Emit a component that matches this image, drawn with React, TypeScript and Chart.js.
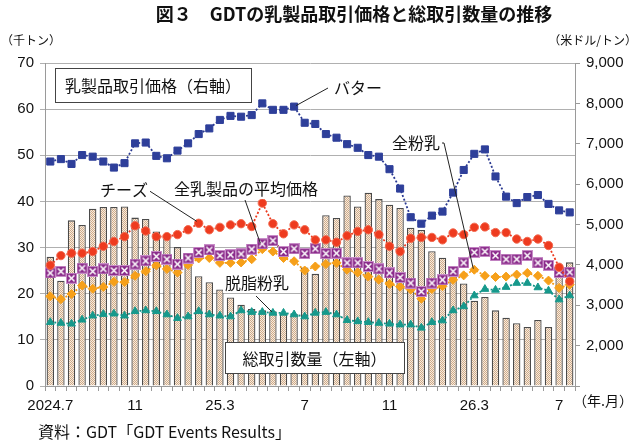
import React, { useEffect, useRef } from 'react';
import { Chart, registerables } from 'chart.js';

Chart.register(...registerables);

// GDT events, two per month, first one is July 2024
const tickLabels = ['2024.7', '11', '25.3', '7', '11', '26.3', '7'];
const eventsPerTick = 8;

// total traded volume (thousand tonnes, left axis)
const volume = [
    28.0, 22.8, 35.9, 34.9, 38.4, 38.8, 38.8, 38.9, 36.5, 36.2,
    33.5, 31.9, 30.1, 28.5, 23.8, 22.5, 20.9, 19.2, 17.6, 16.7,
    16.4, 16.2, 15.9, 15.6, 25.7, 24.3, 37.0, 36.4, 41.3, 38.9,
    41.9, 40.5, 39.3, 38.6, 34.3, 33.8, 29.2, 27.8, 24.3, 22.2,
    18.5, 19.3, 16.4, 14.8, 13.6, 12.8, 14.3, 12.8, 26.3, 26.8,
];

// prices (USD/tonne, right axis)
const butter = [
    6560, 6620, 6500, 6720, 6680, 6560, 6410, 6520, 7010, 7030,
    6700, 6640, 6830, 7010, 7240, 7380, 7590, 7690, 7670, 7710,
    8000, 7840, 7840, 7920, 7520, 7490, 7240, 7150, 6990, 6900,
    6720, 6680, 6370, 5890, 5180, 5020, 5220, 5320, 5790, 6350,
    6750, 6860, 6190, 5690, 5530, 5680, 5730, 5510, 5350, 5300,
];
const cheese = [
    3990, 4230, 4290, 4290, 4330, 4460, 4580, 4700, 4970, 4840,
    4700, 4700, 4750, 4870, 5030, 4870, 4930, 4990, 5020, 4950,
    5530, 5020, 4770, 4990, 4870, 4620, 4620, 4560, 4720, 4830,
    4870, 4750, 4460, 4330, 4660, 4680, 4680, 4620, 4790, 4750,
    4930, 4940, 4800, 4800, 4640, 4580, 4640, 4480, 3940, 3590,
];
const wholeMilkPowder = [
    3800, 3840, 3670, 3920, 3840, 3900, 3860, 3860, 4020, 4100,
    4210, 4140, 4020, 4170, 4310, 4370, 4230, 4250, 4270, 4390,
    4520, 4600, 4330, 4400, 4280, 4400, 4280, 4290, 4050, 4050,
    3960, 3900, 3800, 3690, 3550, 3340, 3550, 3630, 3840, 4050,
    4310, 4330, 4230, 4140, 4140, 4230, 4050, 3990, 3810, 3820,
];
const averagePrice = [
    3220, 3150, 3280, 3490, 3410, 3450, 3580, 3570, 3730, 3840,
    3990, 3900, 3810, 4000, 4160, 4170, 4050, 4050, 4060, 4140,
    4390, 4330, 4170, 4090, 3860, 3960, 4020, 4050, 3880, 3810,
    3710, 3630, 3530, 3460, 3390, 3160, 3400, 3470, 3630, 3740,
    3880, 3730, 3700, 3710, 3760, 3800, 3730, 3610, 3430, 3510,
];
const skimMilkPowder = [
    2580, 2560, 2540, 2640, 2740, 2780, 2790, 2740, 2850, 2870,
    2850, 2770, 2680, 2720, 2850, 2770, 2740, 2720, 2870, 2830,
    2830, 2810, 2810, 2770, 2720, 2810, 2830, 2770, 2630, 2600,
    2580, 2560, 2540, 2520, 2520, 2440, 2580, 2620, 2870, 2970,
    3240, 3400, 3380, 3450, 3550, 3550, 3440, 3360, 3140, 3240,
];

const categories = volume.map((_, i) =>
    i % eventsPerTick === 0 ? tickLabels[i / eventsPerTick] ?? '' : ''
);

const jpFont = "'Noto Sans CJK JP', 'Noto Sans', sans-serif";
const numFont = "'Liberation Sans', Arial, sans-serif";

function makeBarPattern(): CanvasPattern | string {
    const c = document.createElement('canvas');
    c.width = 4;
    c.height = 4;
    const p = c.getContext('2d');
    if (!p) return '#e6d2bd';
    p.fillStyle = '#f5ebe0';
    p.fillRect(0, 0, 4, 4);
    p.fillStyle = '#d0aa86';
    for (let y = 0; y < 4; y++) {
        for (let x = 0; x < 4; x++) {
            if ((x + y) % 2 === 0) p.fillRect(x, y, 1, 1);
        }
    }
    return p.createPattern(c, 'repeat') || '#e6d2bd';
}

function makeWmpMarker(): HTMLCanvasElement {
    const c = document.createElement('canvas');
    c.width = 11;
    c.height = 11;
    const p = c.getContext('2d');
    if (p) {
        p.fillStyle = '#8b2c8b';
        p.fillRect(0, 0, 11, 11);
        p.strokeStyle = '#c88cc8';
        p.lineWidth = 1;
        p.strokeRect(0.5, 0.5, 10, 10);
        p.strokeStyle = '#ffffff';
        p.lineWidth = 1.5;
        p.beginPath();
        p.moveTo(2.5, 2.5);
        p.lineTo(8.5, 8.5);
        p.moveTo(8.5, 2.5);
        p.lineTo(2.5, 8.5);
        p.stroke();
    }
    return c;
}

// text label with white background
function label(ctx: CanvasRenderingContext2D, text: string, x: number, y: number) {
    ctx.font = `16px ${jpFont}`;
    const w = ctx.measureText(text).width;
    ctx.fillStyle = '#ffffff';
    ctx.fillRect(x - 2, y - 10, w + 4, 20);
    ctx.fillStyle = '#111';
    ctx.textAlign = 'left';
    ctx.textBaseline = 'middle';
    ctx.fillText(text, x, y);
}

function leader(ctx: CanvasRenderingContext2D, pts: number[][]) {
    ctx.strokeStyle = '#222';
    ctx.lineWidth = 1;
    ctx.beginPath();
    ctx.moveTo(pts[0][0], pts[0][1]);
    for (let i = 1; i < pts.length; i++) ctx.lineTo(pts[i][0], pts[i][1]);
    ctx.stroke();
}

function box(ctx: CanvasRenderingContext2D, text: string, x: number, y: number, w: number, h: number) {
    ctx.fillStyle = '#ffffff';
    ctx.fillRect(x, y, w, h);
    ctx.strokeStyle = '#444';
    ctx.lineWidth = 1;
    ctx.strokeRect(x + 0.5, y + 0.5, w, h);
    ctx.fillStyle = '#111';
    ctx.font = `16px ${jpFont}`;
    ctx.textAlign = 'center';
    ctx.textBaseline = 'middle';
    ctx.fillText(text, x + w / 2, y + h / 2 + 1);
}

const overlayPlugin = {
    id: 'overlay',
    afterDraw(chart: Chart) {
        const ctx = chart.ctx;
        const xs = chart.scales.x;
        const ys = chart.scales.y1;
        const px = (i: number) => xs.getPixelForValue(i);
        const py = (v: number) => ys.getPixelForValue(v);
        ctx.save();

        // title
        ctx.fillStyle = '#111';
        ctx.font = `bold 18px ${jpFont}`;
        ctx.textAlign = 'center';
        ctx.textBaseline = 'middle';
        ctx.fillText('図３　GDTの乳製品取引価格と総取引数量の推移', 354, 14);

        // axis units
        ctx.font = `12px ${jpFont}`;
        ctx.textAlign = 'left';
        ctx.fillText('（千トン）', 1, 40);
        ctx.textAlign = 'right';
        ctx.fillText('（米ドル/トン）', 637, 40);
        ctx.font = `14px ${jpFont}`;
        ctx.fillText('（年.月）', 633, 401);

        // source
        ctx.textAlign = 'left';
        ctx.font = `16px ${jpFont}`;
        ctx.fillText('資料：GDT「GDT Events Results」', 38, 432);

        // legend boxes
        box(ctx, '乳製品取引価格（右軸）', 55, 68, 196, 34);
        box(ctx, '総取引数量（左軸）', 225, 342, 179, 31);

        // series labels with leader lines
        leader(ctx, [[328, 88], [px(23) + 2, py(butter[23]) - 1]]);
        label(ctx, 'バター', 334, 88);

        leader(ctx, [[148, 190], [px(14) - 2, py(cheese[14]) - 2]]);
        label(ctx, 'チーズ', 100, 190);

        leader(ctx, [[245, 200], [px(20) - 2, py(averagePrice[20]) - 6]]);
        label(ctx, '全乳製品の平均価格', 174, 189);

        leader(ctx, [[256, 296], [px(21) - 1, py(skimMilkPowder[21]) - 1]]);
        label(ctx, '脱脂粉乳', 225, 283);

        leader(ctx, [[438, 143], [444, 143], [px(40) - 1, py(averagePrice[40]) - 1]]);
        label(ctx, '全粉乳', 392, 143);

        ctx.restore();
    },
};

const App: React.FC = () => {
    const chartRef = useRef<HTMLCanvasElement | null>(null);
    const chartInstanceRef = useRef<Chart | null>(null);

    useEffect(() => {
        if (!chartRef.current) return;
        if (chartInstanceRef.current) chartInstanceRef.current.destroy();
        const ctx = chartRef.current.getContext('2d');
        if (!ctx) return;

        const lineBase = {
            type: 'line' as const,
            yAxisID: 'y1',
            borderWidth: 1.8,
            borderDash: [2, 2],
            tension: 0,
            fill: false,
        };

        chartInstanceRef.current = new Chart(ctx, {
            type: 'bar',
            data: {
                labels: categories,
                datasets: [
                    {
                        ...lineBase,
                        label: 'バター',
                        data: butter,
                        borderColor: '#2b3a92',
                        pointStyle: 'rect',
                        pointRadius: 5,
                        pointBackgroundColor: '#2e3f9a',
                        pointBorderColor: '#2e3f9a',
                        pointBorderWidth: 1,
                        order: 1,
                    },
                    {
                        ...lineBase,
                        label: 'チーズ',
                        data: cheese,
                        borderColor: '#ec3a1e',
                        pointStyle: 'circle',
                        pointRadius: 4.2,
                        pointBackgroundColor: '#ee3b1f',
                        pointBorderColor: '#f26a50',
                        pointBorderWidth: 1,
                        order: 2,
                    },
                    {
                        ...lineBase,
                        label: '全粉乳',
                        data: wholeMilkPowder,
                        borderColor: '#7a3a2a',
                        pointStyle: makeWmpMarker(),
                        pointRadius: 5.5,
                        order: 3,
                    },
                    {
                        ...lineBase,
                        label: '全乳製品の平均価格',
                        data: averagePrice,
                        borderColor: '#f39a12',
                        pointStyle: 'rectRot',
                        pointRadius: 4.5,
                        pointBackgroundColor: '#f6a01a',
                        pointBorderColor: '#f6a01a',
                        pointBorderWidth: 1,
                        order: 4,
                    },
                    {
                        ...lineBase,
                        label: '脱脂粉乳',
                        data: skimMilkPowder,
                        borderColor: '#139488',
                        pointStyle: 'triangle',
                        pointRadius: 4.5,
                        pointBackgroundColor: '#16998c',
                        pointBorderColor: '#16998c',
                        pointBorderWidth: 1,
                        order: 5,
                    },
                    {
                        type: 'bar',
                        label: '総取引数量',
                        data: volume,
                        yAxisID: 'y',
                        backgroundColor: makeBarPattern(),
                        borderColor: '#4a4a4a',
                        borderWidth: 1.3,
                        barPercentage: 0.7,
                        categoryPercentage: 1,
                        order: 10,
                    },
                ],
            },
            options: {
                animation: false,
                responsive: false,
                layout: { padding: { top: 63, left: 0, right: 0, bottom: 0 } },
                plugins: {
                    legend: { display: false },
                    tooltip: { enabled: false },
                },
                scales: {
                    x: {
                        type: 'category',
                        offset: true,
                        grid: {
                            display: true,
                            drawOnChartArea: false,
                            drawTicks: true,
                            tickLength: 5,
                            color: '#9a9a9a',
                            offset: true,
                        },
                        border: { display: true, color: '#9a9a9a' },
                        ticks: {
                            autoSkip: false,
                            maxRotation: 0,
                            minRotation: 0,
                            padding: 6,
                            color: '#111',
                            font: { family: numFont, size: 15 },
                        },
                        afterFit: (s: any) => {
                            s.height = 55;
                        },
                    },
                    y: {
                        position: 'left',
                        min: 0,
                        max: 70,
                        ticks: {
                            stepSize: 10,
                            padding: 6,
                            color: '#111',
                            font: { family: numFont, size: 15 },
                        },
                        grid: { color: '#b0b0b0', tickLength: 5 },
                        border: { color: '#9a9a9a' },
                        afterFit: (s: any) => {
                            s.width = 45;
                        },
                    },
                    y1: {
                        position: 'right',
                        min: 1000,
                        max: 9000,
                        ticks: {
                            stepSize: 1000,
                            padding: 6,
                            color: '#111',
                            font: { family: numFont, size: 15 },
                            callback: (v: any) => (Number(v) === 1000 ? '' : Number(v).toLocaleString('en-US')),
                        },
                        grid: { drawOnChartArea: false, tickLength: 5, color: '#9a9a9a' },
                        border: { color: '#9a9a9a' },
                        afterFit: (s: any) => {
                            s.width = 65;
                        },
                    },
                },
            },
            plugins: [overlayPlugin],
        } as any);

        return () => {
            if (chartInstanceRef.current) {
                chartInstanceRef.current.destroy();
                chartInstanceRef.current = null;
            }
        };
    }, []);

    return (
        <div style={{ position: 'absolute', left: 0, top: 0, width: 640, height: 441, background: '#fff' }}>
            <canvas ref={chartRef} width={640} height={441} style={{ width: 640, height: 441 }} />
        </div>
    );
};

export default App;
